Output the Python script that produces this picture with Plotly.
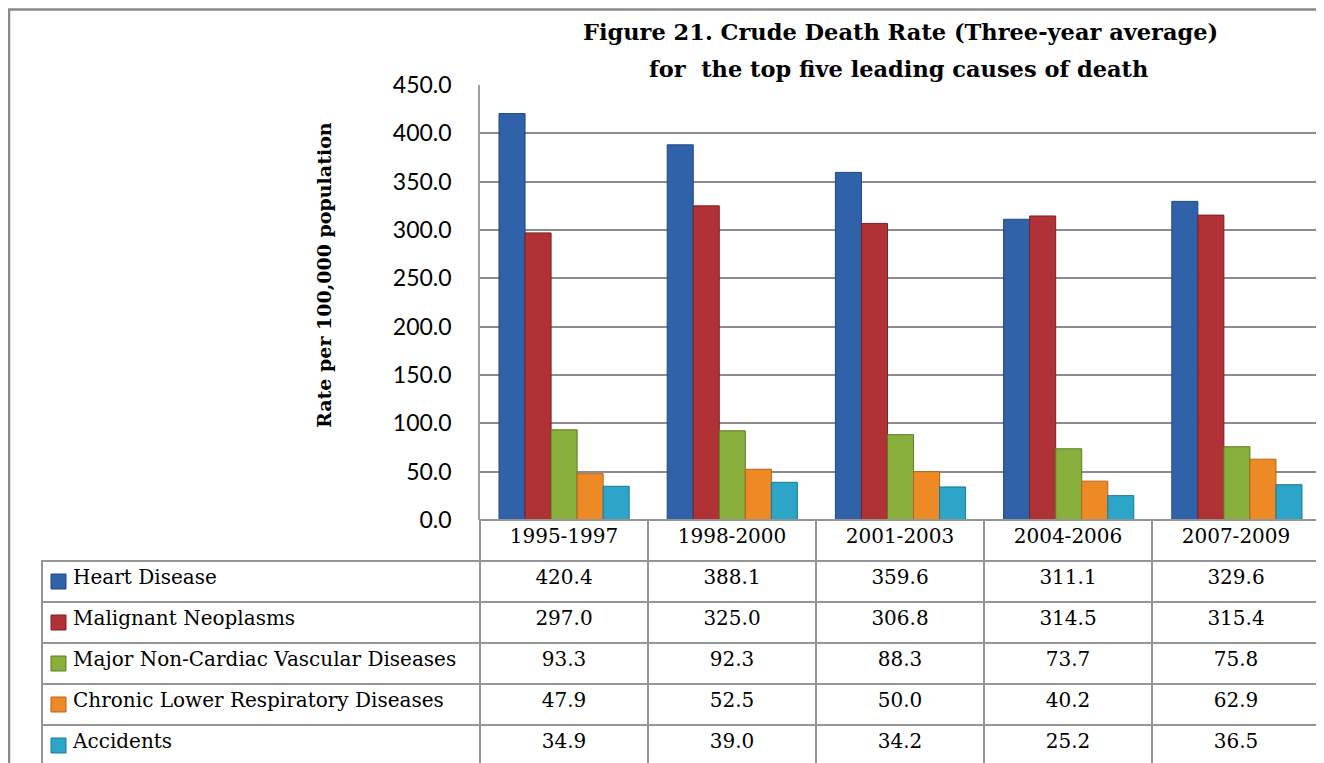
import plotly.graph_objects as go

periods = ["1995-1997", "1998-2000", "2001-2003", "2004-2006", "2007-2009"]
causes = ["Heart Disease", "Malignant Neoplasms", "Major Non-Cardiac Vascular Diseases",
          "Chronic Lower Respiratory Diseases", "Accidents"]
heart = [420.4, 388.1, 359.6, 311.1, 329.6]
malignant = [297.0, 325.0, 306.8, 314.5, 315.4]
vascular = [93.3, 92.3, 88.3, 73.7, 75.8]
respiratory = [47.9, 52.5, 50.0, 40.2, 62.9]
accidents = [34.9, 39.0, 34.2, 25.2, 36.5]
series = [heart, malignant, vascular, respiratory, accidents]
colors = ["#2F62A8", "#B03236", "#88AE3C", "#EE8A25", "#2CA5C8"]
edges = ["#1E4680", "#7E2024", "#5E7D26", "#B4641A", "#1C7894"]

W, H = 1324, 763
OFF = 8  # page margin of the browser body


def px(x):
    return (x - OFF) / W


def py(y):
    return 1 - (y - OFF) / H


SERIF = "DejaVu Serif"
TABLE_TOP = 520
HEADER_H = 41
ROW_H = 41

fig = go.Figure()
for name, vals, c, e in zip(causes, series, colors, edges):
    fig.add_trace(go.Bar(x=periods, y=vals, name=name,
                         marker=dict(color=c, line=dict(color=e, width=1)),
                         showlegend=False))

# data table (legend column + values)
PAD = "\u00a0" * 3 + "\u2009"
first_col = [PAD + n for n in causes]
cols = [first_col] + [[f"{s[i]:.1f}" for s in series] for i in range(len(periods))]
fig.add_trace(go.Table(
    domain=dict(x=[px(42), px(1320)], y=[0, py(TABLE_TOP)]),
    columnwidth=[438] + [168] * len(periods),
    header=dict(values=[""] + periods, height=HEADER_H, align="center",
                fill=dict(color=["rgba(0,0,0,0)"] + ["white"] * len(periods)),
                line=dict(color="#959595", width=[0] + [2] * len(periods)),
                font=dict(family=SERIF, size=20, color="black")),
    cells=dict(values=cols, height=ROW_H, align=["left"] + ["center"] * len(periods),
               fill=dict(color=["rgba(0,0,0,0)"] + ["white"] * len(periods)),
               line=dict(color="#959595", width=2),
               font=dict(family=SERIF, size=20, color="black")),
))

# legend colour keys in the first table column (screen-pixel overlay axes)
key_y = [TABLE_TOP + HEADER_H + ROW_H * (i + 0.5) for i in range(len(causes))]
fig.add_trace(go.Scatter(x=[58.5] * len(causes), y=key_y, mode="markers",
                         marker=dict(symbol="square", size=15, color=colors,
                                     line=dict(color=edges, width=1)),
                         xaxis="x2", yaxis="y2", showlegend=False, hoverinfo="skip",
                         cliponaxis=False))

fig.update_layout(
    width=W, height=H, margin=dict(l=0, r=0, t=0, b=0, pad=0, autoexpand=False),
    paper_bgcolor="white", plot_bgcolor="rgba(0,0,0,0)",
    barmode="group", bargap=0.226, bargroupgap=0,
    xaxis=dict(domain=[px(480), px(1321)], showticklabels=False, showgrid=False,
               zeroline=False, showline=False, fixedrange=True, automargin=False),
    yaxis=dict(domain=[py(TABLE_TOP), py(85)], range=[0, 450], dtick=50, tickformat=".1f",
               showgrid=True, gridcolor="#8c8c8c", gridwidth=1.5, zeroline=False,
               showline=True, linecolor="#a0a0a0", linewidth=1.5, automargin=False,
               ticks="", ticklabelstandoff=22,
               tickfont=dict(family="Lato", size=23, color="black")),
    xaxis2=dict(domain=[0, 1], range=[OFF, OFF + W], visible=False, anchor="y2", fixedrange=True),
    yaxis2=dict(domain=[0, 1], range=[OFF + H, OFF], visible=False, anchor="x2", fixedrange=True),
    shapes=[dict(type="rect", xref="paper", yref="paper", x0=px(9), x1=px(1321),
                 y0=-0.05, y1=py(9.5), line=dict(color="#8a8a8a", width=2.5))],
    annotations=[
        dict(text="<b>Figure 21. Crude Death Rate (Three-year average)</b>", xref="paper", yref="paper",
             x=px(900), y=py(32), showarrow=False, xanchor="center", yanchor="middle",
             font=dict(family=SERIF, size=22.5, color="black")),
        dict(text="<b>for  the top five leading causes of death</b>", xref="paper", yref="paper",
             x=px(898), y=py(69), showarrow=False, xanchor="center", yanchor="middle",
             font=dict(family=SERIF, size=22.5, color="black")),
        dict(text="<b>Rate per 100,000 population</b>", xref="paper", yref="paper",
             x=px(324), y=py(275), showarrow=False, textangle=-90, xanchor="center", yanchor="middle",
             font=dict(family=SERIF, size=19, color="black")),
    ],
)

fig.write_html("out.html")
